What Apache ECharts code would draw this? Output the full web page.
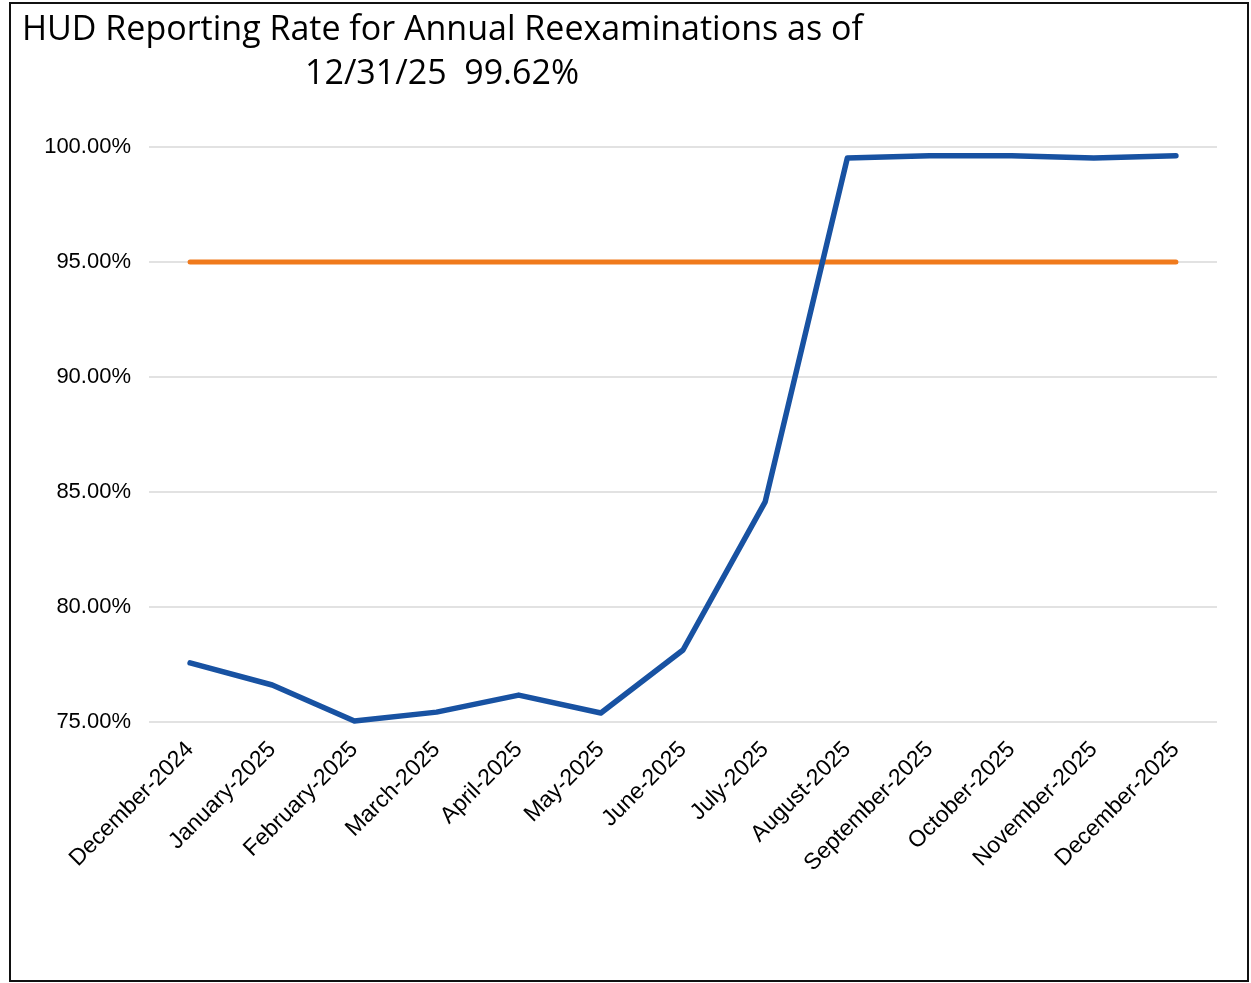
<!DOCTYPE html>
<html>
<head>
<meta charset="utf-8">
<script src="https://cdn.jsdelivr.net/npm/echarts@6/dist/echarts.min.js"></script>
<style>
html,body{margin:0;padding:0;background:#fff;}
#chart{width:1251px;height:983px;}
</style>
</head>
<body>
<div id="chart"></div>
<script>
const titleLine1 = 'HUD Reporting Rate for Annual Reexaminations as of';
const titleLine2 = '12/31/25  99.62%';
const categories = ['December-2024','January-2025','February-2025','March-2025','April-2025','May-2025','June-2025','July-2025','August-2025','September-2025','October-2025','November-2025','December-2025'];
const reportingRate = [77.57, 76.61, 75.04, 75.43, 76.17, 75.39, 78.13, 84.57, 99.52, 99.62, 99.62, 99.52, 99.62];
const target = [95, 95, 95, 95, 95, 95, 95, 95, 95, 95, 95, 95, 95];
const yTicks = {min: 75, max: 100, interval: 5};

const chart = echarts.init(document.getElementById('chart'));
chart.setOption({
  animation: false,
  backgroundColor: '#fff',
  graphic: [
    {type: 'rect', shape: {x: 10, y: 3, width: 1238, height: 978}, style: {fill: 'none', stroke: '#111', lineWidth: 2}, silent: true},
    {type: 'text', left: 22, top: 13, style: {text: titleLine1, font: '34px "Open Sans", sans-serif', fill: '#000'}},
    {type: 'text', left: 305, top: 57, style: {text: titleLine2, font: '34px "Open Sans", sans-serif', fill: '#000'}}
  ],
  grid: {left: 149, right: 34, top: 147, bottom: 261, containLabel: false},
  xAxis: {
    type: 'category',
    data: categories,
    boundaryGap: true,
    axisLine: {show: false},
    axisTick: {show: false},
    axisLabel: {rotate: 45, fontSize: 23, color: '#000', fontFamily: '"Liberation Sans", Arial, sans-serif', margin: 24, interval: 0}
  },
  yAxis: {
    type: 'value',
    min: yTicks.min, max: yTicks.max, interval: yTicks.interval,
    axisLine: {show: false},
    axisTick: {show: false},
    splitLine: {lineStyle: {color: '#d9d9d9', width: 1.5}},
    axisLabel: {fontSize: 22, color: '#000', fontFamily: '"Liberation Sans", Arial, sans-serif', margin: 18,
      formatter: v => v.toFixed(2) + '%'}
  },
  series: [
    {type: 'line', data: target, symbol: 'none', lineStyle: {color: '#f07a1c', width: 5, cap: 'round'}, z: 2},
    {type: 'line', data: reportingRate, symbol: 'none', lineStyle: {color: '#1852a2', width: 5.5, cap: 'round', join: 'round'}, z: 3}
  ]
});
</script>
</body>
</html>
